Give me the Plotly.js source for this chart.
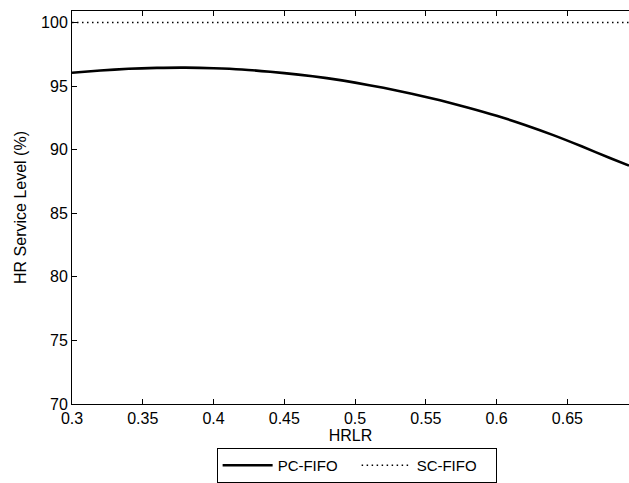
<!DOCTYPE html>
<html>
<head>
<meta charset="utf-8">
<script src="https://cdn.plot.ly/plotly-3.0.1.min.js"></script>
<style>html,body{margin:0;padding:0;background:#fff;}#chart{width:629px;height:483px;}</style>
</head>
<body>
<div id="chart"></div>
<script>
const hrlr = [0.30, 0.32, 0.34, 0.36, 0.38, 0.40, 0.42, 0.44, 0.46, 0.48, 0.50, 0.52, 0.54, 0.56, 0.58, 0.60, 0.62, 0.64, 0.66, 0.68, 0.6935];
const pcFifo = [96.04, 96.22, 96.36, 96.43, 96.45, 96.40, 96.30, 96.12, 95.90, 95.62, 95.27, 94.86, 94.40, 93.88, 93.30, 92.66, 91.94, 91.14, 90.26, 89.34, 88.74];
const scX = [0.30, 0.6935];
const scFifo = [100, 100];
const xTicks = [0.3, 0.35, 0.4, 0.45, 0.5, 0.55, 0.6, 0.65];
const xTickText = ['0.3', '0.35', '0.4', '0.45', '0.5', '0.55', '0.6', '0.65'];
const yTicks = [70, 75, 80, 85, 90, 95, 100];

const font = {family: 'Liberation Sans, Arial, sans-serif', size: 16, color: '#000'};
const legendFont = {family: 'Liberation Sans, Arial, sans-serif', size: 15, color: '#000'};

const traces = [
  {x: hrlr, y: pcFifo, name: 'PC-FIFO', mode: 'lines', line: {color: '#000', width: 2.6, shape: 'spline', smoothing: 0.6}},
  {x: scX, y: scFifo, name: 'SC-FIFO', mode: 'lines', line: {color: '#000', width: 1.5, dash: '1.5px,3.5px'}}
];

const layout = {
  width: 629, height: 483,
  margin: {l: 72, r: 0, t: 11, b: 79, autoexpand: false},
  paper_bgcolor: '#fff', plot_bgcolor: '#fff',
  font: font,
  showlegend: true,
  legend: {orientation: 'h', x: 0.511, xanchor: 'center', y: -0.112, yanchor: 'top',
           bordercolor: '#000', borderwidth: 1, bgcolor: 'rgba(255,255,255,0)', font: legendFont,
           itemwidth: 50, entrywidth: 74, tracegroupgap: 0},
  xaxis: {range: [0.3, 0.6935], tickvals: xTicks, ticktext: xTickText,
          ticks: 'inside', ticklen: 5, tickcolor: '#000', showline: true, linecolor: '#000', linewidth: 1,
          mirror: 'ticks', showgrid: false, zeroline: false, tickfont: font,
          title: {text: 'HRLR', font: font, standoff: 3}},
  yaxis: {range: [70, 100.9], tickvals: yTicks,
          ticks: 'inside', ticklen: 5, tickcolor: '#000', showline: true, linecolor: '#000', linewidth: 1,
          mirror: false, showgrid: false, zeroline: false, tickfont: font,
          title: {text: 'HR Service Level (%)', font: font, standoff: 10}}
};

Plotly.newPlot('chart', traces, layout, {staticPlot: true, displayModeBar: false});
</script>
</body>
</html>
